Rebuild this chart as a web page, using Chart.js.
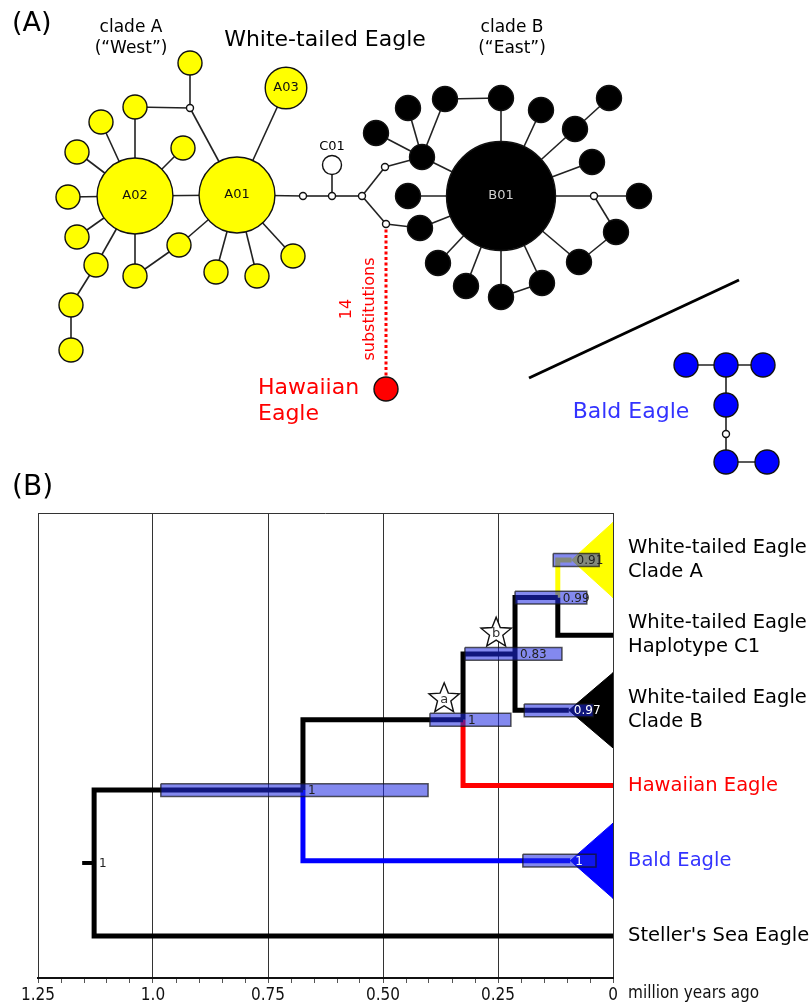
<!DOCTYPE html>
<html>
<head>
<meta charset="utf-8">
<script src="https://cdn.jsdelivr.net/npm/chart.js@4.4.1/dist/chart.umd.min.js"></script>
<style>
  html, body { margin: 0; padding: 0; background: #fff; }
  #page { position: relative; width: 812px; height: 1002px; overflow: hidden; }
  canvas { position: absolute; left: 0; }
  #canvaA { top: 0; }
  #canvaB { top: 460px; }
</style>
</head>
<body>
<div id="page">
  <canvas id="canvaA" width="812" height="480"></canvas>
  <canvas id="canvaB" width="812" height="542"></canvas>
</div>
<script>
// ===== (A) réseau d'haplotypes =====
// identifiants des haplotypes (m = vecteur médian)
const hapIds = ['A02','A01','A03','a1','a2','a3','a4','a5','a6','a7','a8','a9','a10','a11','a12','a13','a14','a15',
  'm1','m2','m3','C01','m4','m5','m6',
  'B01','b1','b2','b3','b4','b5','b6','b7','b8','b9','b10','b11','b12','b13','b14','b15','m7','b16','b17','b18',
  'HAW','d1','d2','d3','d4','m8','d5','d6'];
// position dans la mise en page du réseau
const hapX = [135,237,286,190,135,101,77,183,68,77,96,71,71,135,179,216,257,293,
  190,303,332,332,362,385,386,
  501,422,376,408,445,501,408,420,438,466,501,542,541,575,609,592,594,639,616,579,
  386,686,726,763,726,726,726,767];
const hapY = [196,195,88,63,107,122,152,148,197,237,265,305,350,276,245,272,276,256,
  108,196,196,165,196,167,224,
  196,157,133,108,99,98,196,228,263,286,297,283,110,129,98,162,196,196,232,262,
  389,365,365,365,405,434,462,462];
// nombre d'individus par haplotype (0 = vecteur médian)
const hapCount = [10,10,3,1,1,1,1,1,1,1,1,1,1,1,1,1,1,1,
  0,0,0,1,0,0,0,
  19,1,1,1,1,1,1,1,1,1,1,1,1,1,1,1,0,1,1,1,
  1,1,1,1,1,0,1,1];
// groupe : A = clade A, B = clade B, C = C01, M = médian, H = Hawaï, N = pygargue à tête blanche
const hapGroup = ['A','A','A','A','A','A','A','A','A','A','A','A','A','A','A','A','A','A',
  'M','M','M','C','M','M','M',
  'B','B','B','B','B','B','B','B','B','B','B','B','B','B','B','B','M','B','B','B',
  'H','N','N','N','N','M','N','N'];
const hapLabels = { A02: 'A02', A01: 'A01', A03: 'A03', B01: 'B01' };
// liens du réseau (1 mutation)
const liens = [['A02','A01'],['A02','a2'],['A02','a3'],['A02','a4'],['A02','a5'],['A02','a6'],['A02','a7'],['A02','a8'],
  ['A02','a11'],['a8','a9'],['a9','a10'],['a2','m1'],['m1','a1'],['m1','A01'],['a11','a12'],['a12','A01'],
  ['A01','a13'],['A01','a14'],['A01','a15'],['A01','A03'],['A01','m2'],['m2','m3'],['m3','C01'],['m3','m4'],
  ['m4','m5'],['m4','m6'],['m5','b1'],['m6','b7'],['b1','B01'],['b1','b2'],['b1','b3'],['b1','b4'],['b4','b5'],
  ['b5','B01'],['b6','B01'],['b7','B01'],['B01','b8'],['B01','b9'],['B01','b10'],['b10','b11'],['b11','B01'],
  ['B01','b12'],['B01','b13'],['b13','b14'],['B01','b15'],['B01','m7'],['m7','b16'],['m7','b17'],['b17','b18'],
  ['b18','B01'],
  ['d1','d2'],['d2','d3'],['d2','d4'],['d4','m8'],['m8','d5'],['d5','d6']];
const lienHawai = ['m6','HAW']; // 14 substitutions
const separationX = [529, 739];
const separationY = [378, 280];

// ===== (B) arbre daté =====
const treeNoms  = ['root','n1','na','nb','n99','cladeA','c1','cladeB','hawaii','bald','steller'];
const treeAges  = [1.128, 0.674, 0.326, 0.213, 0.12, 0.09, 0, 0.096, 0, 0.093, 0];
const treeRows  = [4.03, 3.06, 2.125, 1.25, 0.5, 0, 1, 2, 3, 4, 5];
const treePost  = ['1','1','1','0.83','0.99','0.91', null,'0.97', null,'1', null];
const rootStubAge = 1.154;
// [parent, enfant]
const branches = [['root','n1'],['root','steller'],['n1','na'],['n1','bald'],['na','nb'],['na','hawaii'],
  ['nb','n99'],['nb','cladeB'],['n99','cladeA'],['n99','c1']];
// intervalles HPD 95 % (millions d'années)
const hpdNoms = ['n1','na','nb','n99','cladeA','cladeB','bald'];
const hpdMin  = [0.402, 0.222, 0.111, 0.057, 0.030, 0.043, 0.037];
const hpdMax  = [0.983, 0.398, 0.322, 0.213, 0.130, 0.193, 0.196];
const clades  = ['cladeA','cladeB','bald'];
const tipNoms = ['cladeA','c1','cladeB','hawaii','bald','steller'];
const tipLabels = [['White-tailed Eagle','Clade A'],['White-tailed Eagle','Haplotype C1'],
  ['White-tailed Eagle','Clade B'],['Hawaiian Eagle'],['Bald Eagle'],["Steller's Sea Eagle"]];
// étoiles a et b (calibrations)
const etoileNoms = ['a','b'];
const etoileAge  = [0.367, 0.254];
const etoileRow  = [1.826, 0.953];
// axe
const ticksMajeurs = [1.25, 1.0, 0.75, 0.5, 0.25, 0];
const ticksLabels  = ['1.25','1.0','0.75','0.50','0.25','0'];

// ----- styles -----
Chart.defaults.font.family = '"DejaVu Sans", Verdana, sans-serif';
const policeAxe = '"DejaVu Sans Condensed", "Liberation Sans Narrow", "DejaVu Sans", sans-serif';
const cladeStyle = {
  A: { fill: '#ffff00', unite: 12 },
  B: { fill: '#000000', unite: 12.5 },
  C: { fill: '#ffffff', unite: 9.5 },
  H: { fill: '#ff0000', unite: 12 },
  N: { fill: '#0000ff', unite: 12 },
  M: { fill: '#ffffff', unite: 0 }
};
const couleurBranche = { steller: '#000', n1: '#000', na: '#000', bald: '#0000ff', nb: '#000',
  hawaii: '#ff0000', n99: '#000', cladeB: '#000', cladeA: '#ffff00', c1: '#000' };
const couleurClade = { cladeA: '#ffff00', cladeB: '#000000', bald: '#0000ff' };
const couleurTip = ['#000','#000','#000','#ff0000','#3333ff','#000'];

function rayon(i) {
  if (hapGroup[i] === 'M') return 3.5;
  return cladeStyle[hapGroup[i]].unite * Math.sqrt(hapCount[i]);
}
const pt = id => { const i = hapIds.indexOf(id); return { x: hapX[i], y: hapY[i] }; };

// ----- graphique A -----
const datasetsA = [];
datasetsA.push({
  data: hapIds.map((id, i) => ({ x: hapX[i], y: hapY[i] })),
  pointRadius: hapIds.map((id, i) => rayon(i)),
  pointBackgroundColor: hapIds.map((id, i) => cladeStyle[hapGroup[i]].fill),
  pointBorderColor: '#111',
  pointBorderWidth: 1.4,
  showLine: false,
  clip: false,
  order: 0
});
liens.forEach(([a, b]) => {
  datasetsA.push({ data: [pt(a), pt(b)], showLine: true, borderColor: '#222', borderWidth: 1.6,
    pointRadius: 0, order: 2 });
});
datasetsA.push({ data: [pt(lienHawai[0]), pt(lienHawai[1])], showLine: true, borderColor: '#ff0000',
  borderWidth: 3, borderDash: [3, 2.5], pointRadius: 0, order: 1 });
datasetsA.push({ data: separationX.map((x, i) => ({ x: x, y: separationY[i] })), showLine: true,
  borderColor: '#000', borderWidth: 3, pointRadius: 0, order: 1 });

function texte(ctx, t, x, y, taille, couleur, align, police) {
  ctx.save();
  ctx.font = taille + 'px ' + (police || '"DejaVu Sans", Verdana, sans-serif');
  ctx.fillStyle = couleur || '#000';
  ctx.textAlign = align || 'center';
  ctx.textBaseline = 'middle';
  ctx.fillText(t, x, y);
  ctx.restore();
}

const etiquettesA = {
  id: 'etiquettesA',
  afterDatasetsDraw(chart) {
    const { ctx, scales: { x, y } } = chart;
    const X = v => x.getPixelForValue(v), Y = v => y.getPixelForValue(v);
    texte(ctx, '(A)', X(12), Y(24), 27, '#000', 'left');
    texte(ctx, 'clade A', X(131), Y(28), 17);
    texte(ctx, '(\u201cWest\u201d)', X(131), Y(49), 17);
    texte(ctx, 'White-tailed Eagle', X(325), Y(40), 22);
    texte(ctx, 'clade B', X(512), Y(28), 17);
    texte(ctx, '(\u201cEast\u201d)', X(512), Y(49), 17);
    texte(ctx, 'C01', X(332), Y(147), 13);
    texte(ctx, 'Hawaiian', X(258), Y(388), 22, '#ff0000', 'left');
    texte(ctx, 'Eagle', X(258), Y(414), 22, '#ff0000', 'left');
    texte(ctx, 'Bald Eagle', X(631), Y(412), 22, '#3333ff');
    // noms des haplotypes principaux
    Object.keys(hapLabels).forEach(id => {
      const p = pt(id);
      texte(ctx, hapLabels[id], X(p.x), Y(p.y), 13, id === 'B01' ? '#d0d0d0' : '#111');
    });
    // 14 substitutions (texte vertical)
    ctx.save();
    ctx.translate(X(359), Y(309));
    ctx.rotate(-Math.PI / 2);
    texte(ctx, '14', 0, -12, 16, '#ff0000');
    texte(ctx, 'substitutions', 0, 11, 16, '#ff0000');
    ctx.restore();
  }
};

new Chart(document.querySelector('#canvaA'), {
  type: 'scatter',
  data: { datasets: datasetsA },
  options: {
    responsive: false, animation: false, events: [],
    layout: { padding: 0, autoPadding: false },
    scales: {
      x: { display: false, min: 0, max: 812 },
      y: { display: false, min: 0, max: 480, reverse: true }
    },
    plugins: { legend: { display: false }, tooltip: { enabled: false } }
  },
  plugins: [etiquettesA]
});

// ----- graphique B -----
const ageDe = n => treeAges[treeNoms.indexOf(n)];
const rowDe = n => treeRows[treeNoms.indexOf(n)];
const datasetsB = [];

// triangles des clades
clades.forEach(c => {
  datasetsB.push({
    data: [{ x: ageDe(c), y: rowDe(c) }, { x: 0, y: rowDe(c) - 0.5 }, { x: 0, y: rowDe(c) + 0.5 },
           { x: ageDe(c), y: rowDe(c) }],
    showLine: true, fill: 'shape', backgroundColor: couleurClade[c], borderColor: couleurClade[c],
    borderWidth: 1, pointRadius: 0, order: 3
  });
});
// branches
branches.forEach(([p, e]) => {
  datasetsB.push({
    data: [{ x: ageDe(p), y: rowDe(p) }, { x: ageDe(p), y: rowDe(e) }, { x: ageDe(e), y: rowDe(e) }],
    showLine: true, borderColor: couleurBranche[e], borderWidth: 5, borderJoinStyle: 'miter',
    borderCapStyle: 'butt', pointRadius: 0, order: 2
  });
});
datasetsB.push({
  data: [{ x: rootStubAge, y: rowDe('root') }, { x: ageDe('root'), y: rowDe('root') }],
  showLine: true, borderColor: '#000', borderWidth: 4, pointRadius: 0, order: 2
});
// barres HPD
const demi = 0.085;
hpdNoms.forEach((n, i) => {
  const r = rowDe(n);
  datasetsB.push({
    data: [{ x: hpdMax[i], y: r - demi }, { x: hpdMin[i], y: r - demi }, { x: hpdMin[i], y: r + demi },
           { x: hpdMax[i], y: r + demi }, { x: hpdMax[i], y: r - demi }],
    showLine: true, fill: 'shape', backgroundColor: 'rgba(30,40,225,0.55)',
    borderColor: 'rgba(20,20,20,0.7)', borderWidth: 1.5, borderJoinStyle: 'miter', pointRadius: 0, order: 1
  });
});

const tickValeurs = [];
for (let k = 0; k <= 25; k++) tickValeurs.push(+(k * 0.05).toFixed(2));
const estMajeur = v => ticksMajeurs.some(m => Math.abs(m - v) < 1e-6);

const etiquettesB = {
  id: 'etiquettesB',
  beforeDatasetsDraw(chart) {
    const { ctx, chartArea } = chart;
    ctx.save();
    ctx.strokeStyle = '#333';
    ctx.lineWidth = 1;
    ctx.beginPath();
    ctx.moveTo(chartArea.left, chartArea.top + 0.5);
    ctx.lineTo(chartArea.right, chartArea.top + 0.5);
    ctx.stroke();
    ctx.restore();
  },
  afterDatasetsDraw(chart) {
    const { ctx, scales: { x, y } } = chart;
    // probabilités postérieures
    treeNoms.forEach((n, i) => {
      if (!treePost[i]) return;
      const blanc = (n === 'cladeB' || n === 'bald');
      texte(ctx, treePost[i], x.getPixelForValue(treeAges[i]) + 5, y.getPixelForValue(treeRows[i]) + 1,
        12, blanc ? '#fff' : '#222', 'left');
    });
    // étoiles
    etoileNoms.forEach((lettre, i) => {
      const cx = x.getPixelForValue(etoileAge[i]), cy = y.getPixelForValue(etoileRow[i]);
      const R = 16, r = 7;
      ctx.save();
      ctx.beginPath();
      for (let k = 0; k < 10; k++) {
        const a = -Math.PI / 2 + k * Math.PI / 5, rr = k % 2 === 0 ? R : r;
        const px = cx + rr * Math.cos(a), py = cy + rr * Math.sin(a) + 1.5;
        if (k === 0) ctx.moveTo(px, py); else ctx.lineTo(px, py);
      }
      ctx.closePath();
      ctx.fillStyle = '#fff';
      ctx.fill();
      ctx.strokeStyle = '#111';
      ctx.lineWidth = 1.4;
      ctx.stroke();
      ctx.restore();
      texte(ctx, lettre, cx, cy + 2, 13, '#333');
    });
    // noms des terminaux
    tipNoms.forEach((n, i) => {
      const px = x.getPixelForValue(0) + 15, py = y.getPixelForValue(rowDe(n));
      const lignes = tipLabels[i];
      lignes.forEach((l, k) => {
        const dy = lignes.length === 1 ? 0 : (k === 0 ? -12 : 12);
        texte(ctx, l, px, py + dy, 19.5, couleurTip[i], 'left');
      });
    });
    texte(ctx, '(B)', 12, 28, 28, '#000', 'left');
    texte(ctx, 'million years ago', x.getPixelForValue(0) + 15, chart.chartArea.bottom + 16, 17, '#111', 'left', policeAxe);
  }
};

new Chart(document.querySelector('#canvaB'), {
  type: 'scatter',
  data: { datasets: datasetsB },
  options: {
    responsive: false, animation: false, events: [],
    layout: { padding: { left: 38, right: 199, top: 53, bottom: 0 }, autoPadding: false },
    scales: {
      x: {
        type: 'linear', min: 0, max: 1.25, reverse: true,
        afterBuildTicks: s => { s.ticks = tickValeurs.map(v => ({ value: v })); },
        afterFit: s => { s.height = 24; },
        ticks: {
          autoSkip: false, maxRotation: 0, padding: 2, color: '#111',
          font: { size: 17, family: policeAxe },
          callback: v => { const k = ticksMajeurs.findIndex(m => Math.abs(m - v) < 1e-6); return k >= 0 ? ticksLabels[k] : ''; }
        },
        grid: {
          color: c => (c.tick && estMajeur(c.tick.value)) ? '#333' : 'rgba(0,0,0,0)',
          tickColor: '#555', tickLength: 5, lineWidth: 1
        },
        border: { display: true, color: '#111', width: 2 }
      },
      y: { display: false, min: -0.625, max: 5.56, reverse: true }
    },
    plugins: { legend: { display: false }, tooltip: { enabled: false } }
  },
  plugins: [etiquettesB]
});
</script>
</body>
</html>
